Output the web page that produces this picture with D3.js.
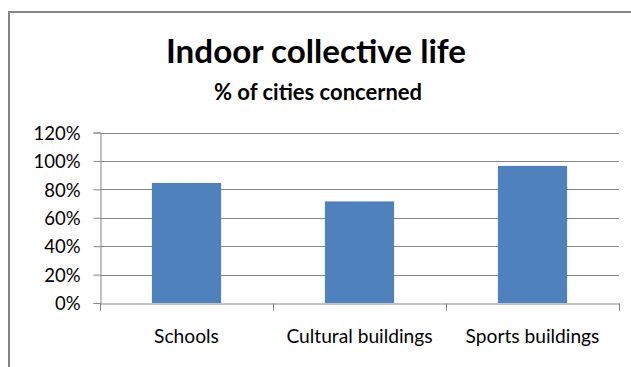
<!DOCTYPE html>
<html>
<head>
<meta charset="utf-8">
<script src="https://cdn.jsdelivr.net/npm/d3@7"></script>
<style>
  html, body { margin: 0; padding: 0; background: #fff; }
  svg { display: block; }
  text { font-family: Lato, "Open Sans", sans-serif; fill: #000; }
</style>
</head>
<body>
<svg id="chart" width="631" height="367"></svg>
<script>
// Share of cities concerned, by type of indoor collective building
const categories = ["Schools", "Cultural buildings", "Sports buildings"];
const values = [84.5, 71.5, 96.5];
const yTicks = [0, 20, 40, 60, 80, 100, 120];
const title = "Indoor collective life";
const subtitle = "% of cities concerned";

const W = 631, H = 367;
const plot = { left: 100, right: 619, top: 132.5, bottom: 303 };
const gridColor = "#868686";

const svg = d3.select("#chart");

// chart area frame (top and left edges visible)
svg.append("rect")
  .attr("x", 9).attr("y", 12)
  .attr("width", W + 20).attr("height", H + 20)
  .attr("fill", "#fff")
  .attr("stroke", "#868686")
  .attr("stroke-width", 2);

const x = d3.scaleBand()
  .domain(categories)
  .range([plot.left, plot.right])
  .paddingInner(0.6)
  .paddingOuter(0.3);

const y = d3.scaleLinear()
  .domain([0, 120])
  .range([plot.bottom, plot.top]);

// horizontal gridlines
svg.append("g")
  .selectAll("line")
  .data(yTicks.filter(d => d > 0))
  .join("line")
  .attr("x1", plot.left).attr("x2", plot.right)
  .attr("y1", d => Math.round(y(d)) + 0.5)
  .attr("y2", d => Math.round(y(d)) + 0.5)
  .attr("stroke", gridColor)
  .attr("stroke-width", 1);

// bars
svg.append("g")
  .selectAll("rect")
  .data(categories)
  .join("rect")
  .attr("x", d => x(d))
  .attr("width", x.bandwidth())
  .attr("y", (d, i) => y(values[i]))
  .attr("height", (d, i) => y(0) - y(values[i]))
  .attr("fill", "#4f81bd");

// y axis
const yAxis = svg.append("g")
  .attr("transform", `translate(${plot.left + 0.5},0)`)
  .call(d3.axisLeft(y).tickValues(yTicks).tickSize(7).tickPadding(13)
    .tickFormat(d => d + "%"));
yAxis.selectAll("path, line").attr("stroke", gridColor);
yAxis.selectAll("text")
  .attr("font-size", 18.5)
  .attr("dy", "0.36em")
  .style("font-family", "Lato, sans-serif")
  .attr("fill", "#000");

// x axis: tick marks between categories
const xEdge = d3.scaleLinear().domain([0, categories.length]).range([plot.left, plot.right]);
const xAxis = svg.append("g")
  .attr("transform", `translate(0,${plot.bottom + 0.5})`)
  .call(d3.axisBottom(xEdge).tickValues(d3.range(categories.length + 1))
    .tickSize(7).tickFormat(""));
xAxis.select(".domain").attr("stroke", gridColor);
xAxis.selectAll("line").attr("stroke", gridColor);

// category labels
svg.append("g")
  .selectAll("text")
  .data(categories)
  .join("text")
  .attr("x", d => x(d) + x.bandwidth() / 2)
  .attr("y", 343)
  .attr("text-anchor", "middle")
  .attr("font-size", 19.2)
  .text(d => d);

// titles
svg.append("text")
  .attr("x", 316).attr("y", 63)
  .attr("text-anchor", "middle")
  .attr("font-size", 33.2)
  .attr("font-weight", 700)
  .text(title);

svg.append("text")
  .attr("x", 318).attr("y", 100)
  .attr("text-anchor", "middle")
  .attr("font-size", 22)
  .attr("font-weight", 700)
  .text(subtitle);
</script>
</body>
</html>
